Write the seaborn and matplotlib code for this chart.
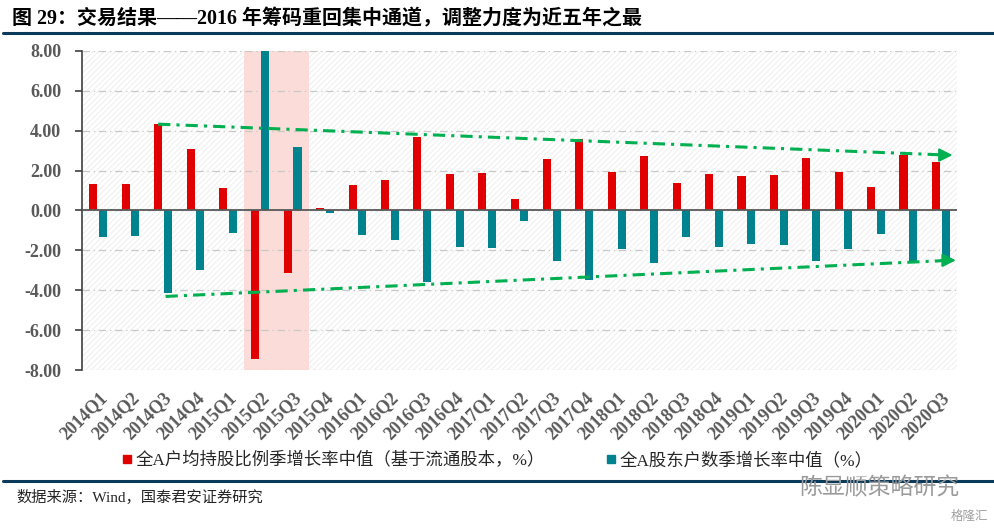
import matplotlib
matplotlib.use('Agg')
import matplotlib.pyplot as plt
import seaborn as sns
import pandas as pd
from matplotlib.patches import Rectangle
from matplotlib.lines import Line2D

# data
quarters = ['2014Q1', '2014Q2', '2014Q3', '2014Q4', '2015Q1', '2015Q2', '2015Q3', '2015Q4',
            '2016Q1', '2016Q2', '2016Q3', '2016Q4', '2017Q1', '2017Q2', '2017Q3', '2017Q4',
            '2018Q1', '2018Q2', '2018Q3', '2018Q4', '2019Q1', '2019Q2', '2019Q3', '2019Q4',
            '2020Q1', '2020Q2', '2020Q3']
hold_ratio = [1.31, 1.31, 4.33, 3.09, 1.11, -7.45, -3.12, 0.12, 1.26, 1.51, 3.71, 1.83, 1.88,
              0.57, 2.57, 3.59, 1.93, 2.72, 1.36, 1.83, 1.73, 1.78, 2.62, 1.93, 1.16, 2.77, 2.45]
holders = [-1.34, -1.29, -4.16, -3.00, -1.12, 8.00, 3.17, -0.15, -1.22, -1.49, -3.57, -1.81, -1.86,
           -0.55, -2.53, -3.47, -1.91, -2.63, -1.34, -1.81, -1.69, -1.74, -2.53, -1.91, -1.17, -2.62, -2.37]
series_names = ['全A户均持股比例季增长率中值（基于流通股本，%）', '全A股东户数季增长率中值（%）']

# trend guide lines (x in category positions)
upper_x = [1.85, 26.2]
upper_y = [4.33, 2.78]
lower_x = [2.08, 26.3]
lower_y = [-4.31, -2.50]
highlight = [4.5, 6.5]

yticks = [-8, -6, -4, -2, 0, 2, 4, 6, 8]

red = '#E00000'
teal = '#00838F'
green = '#00B050'
navy = '#0B3A5A'

sns.set_theme(style='white')
plt.rcParams['font.family'] = ['Liberation Serif', 'Noto Sans CJK SC', 'DejaVu Sans']
plt.rcParams['hatch.linewidth'] = 0.6

df = pd.DataFrame({
    'quarter': quarters * 2,
    'value': hold_ratio + holders,
    'series': [series_names[0]] * len(quarters) + [series_names[1]] * len(quarters),
})

fig = plt.figure(figsize=(9.95, 5.31), dpi=100)
ax = fig.add_axes([0.0824, 0.3032, 0.8794, 0.6008])

# faint hatched plot background
ax.add_patch(Rectangle((0, 0), 1, 1, transform=ax.transAxes, facecolor='white',
                       edgecolor='#ECECEC', hatch='//////', lw=0, zorder=0))
ax.axvspan(highlight[0], highlight[1], color='#FBDCD8', zorder=1, lw=0)

sns.barplot(data=df, x='quarter', y='value', hue='series', palette=[red, teal],
            width=0.6, gap=0.17, saturation=1, linewidth=0, ax=ax, zorder=3, legend=False)

ax.set_xlim(-0.5, len(quarters) - 0.5)
ax.set_ylim(-8, 8)
ax.set_yticks(yticks)
ax.set_yticklabels(['{:.2f}'.format(v) for v in yticks], fontsize=13, weight='bold', color='#595959')
ax.set_xticks(range(len(quarters)))
ax.set_xticklabels(quarters, rotation=45, ha='right', rotation_mode='anchor',
                   fontsize=13, weight='bold', color='#595959')
ax.set_xlabel('')
ax.set_ylabel('')

for y in yticks:
    ax.axhline(y, color='#C8C8C8', lw=0.9, ls=(0, (6, 3, 1, 3)), zorder=2)
ax.axhline(0, color='#595959', lw=1.3, zorder=4)

for s in ['top', 'right', 'bottom']:
    ax.spines[s].set_visible(False)
ax.spines['left'].set_color('#404040')
ax.spines['left'].set_linewidth(1.2)
ax.tick_params(axis='y', left=True, length=5, width=1.2, color='#404040', pad=10)
ax.tick_params(axis='x', bottom=False, pad=8)

# green dash-dot trend arrows
for xs, ys in [(upper_x, upper_y), (lower_x, lower_y)]:
    ax.plot(xs, ys, color=green, lw=2.2, ls=(0, (4, 2, 1, 2)), zorder=5, clip_on=False)
    ax.annotate('', xy=(xs[1] + 0.25, ys[1]), xytext=(xs[1] - 0.4, ys[1]),
                arrowprops=dict(arrowstyle='-|>', color=green, lw=1.5, mutation_scale=20),
                zorder=6, annotation_clip=False)

handles = [Line2D([], [], marker='s', ls='', color=c, markersize=6) for c in [red, teal]]
fig.legend(handles, series_names, loc='center left', bbox_to_anchor=(0.108, 0.132), ncol=2,
           frameon=False, handlelength=0.5, handletextpad=0.2,
           columnspacing=3.6, labelcolor='#262626', prop=dict(size=12.5))

fig.text(0.012, 0.963, '图 29：交易结果——2016 年筹码重回集中通道，调整力度为近五年之最',
         fontsize=14.4, weight='bold', va='center', ha='left', color='#000000')
fig.add_artist(Line2D([0.003, 1.0], [0.938, 0.938], color=navy, lw=2.2))
fig.add_artist(Line2D([0.003, 1.0], [0.094, 0.094], color=navy, lw=2.2))
fig.text(0.017, 0.064, '数据来源：Wind，国泰君安证券研究', fontsize=11, va='center', ha='left')
fig.text(0.803, 0.082, '陈显顺策略研究', fontsize=16.5, color='#9A9A9A', va='center', ha='left',
         family=['Noto Sans CJK SC'])
fig.text(0.955, 0.028, '格隆汇', fontsize=9, color='#A0A0A0', va='center', ha='left',
         family=['Noto Sans CJK SC'])

fig.savefig('out.png', dpi=100)
